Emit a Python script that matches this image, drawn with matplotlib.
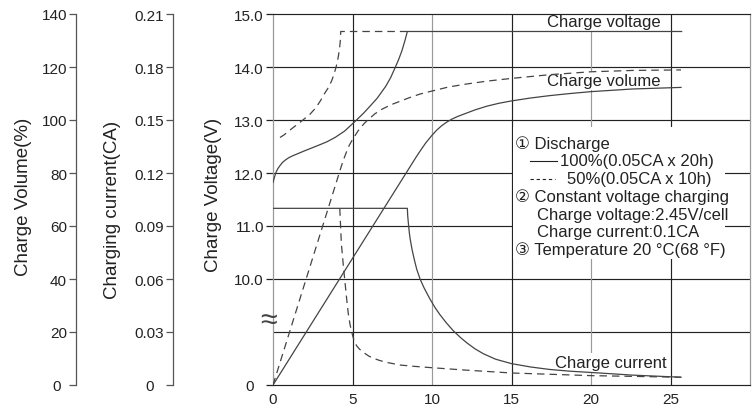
import matplotlib
matplotlib.use('Agg')
import matplotlib.pyplot as plt
from matplotlib.patches import Rectangle

plt.rcParams['font.family'] = ['Liberation Sans', 'DejaVu Sans']

# charge voltage (V) vs time (h)
hours_v100 = [0, 0.1, 0.2, 0.3, 0.44, 0.6, 0.8, 1.0, 1.28, 1.6, 2.0, 2.5, 3.0, 3.4, 3.9, 4.5, 5.15,
              5.7, 6.1, 6.55, 7.1, 7.4, 7.7, 7.9, 8.1, 8.3, 8.45, 25.7]
volt_100 = [11.82, 11.93, 12.02, 12.08, 12.14, 12.2, 12.25, 12.29, 12.33, 12.37, 12.42, 12.48, 12.54, 12.59, 12.67, 12.79, 12.97,
            13.13, 13.26, 13.41, 13.64, 13.8, 14.0, 14.14, 14.3, 14.5, 14.67, 14.67]
hours_v50 = [0.44, 0.7, 0.9, 1.28, 1.8, 2.33, 2.6, 2.8, 3.0, 3.16, 3.35, 3.5, 3.69, 3.82, 3.95, 4.05, 4.12,
             4.18, 4.22, 4.25, 4.26, 8.45]
volt_50 = [12.67, 12.72, 12.77, 12.86, 12.98, 13.11, 13.2, 13.28, 13.37, 13.46, 13.55, 13.62, 13.74, 13.85, 13.98, 14.1, 14.22,
           14.34, 14.45, 14.57, 14.67, 14.67]

# charge volume (%)
hours_c100 = [0, 9.0, 9.3, 9.6, 9.98, 10.3, 10.6, 10.9, 11.24, 11.6, 12.08, 12.7, 13.44, 14.2, 15.0, 16.2,
              17.4, 18.7, 20.0, 22.6, 25.66]
vol_100 = [0, 86, 88.7, 91.3, 94.1, 96.2, 97.8, 99.1, 100.3, 101.3, 102.4, 103.8, 105.2, 106.3, 107.2, 108.3,
           109.2, 110.0, 110.7, 111.7, 112.3]
hours_c50 = [0, 4.4, 4.53, 4.66, 4.8, 4.98, 5.16, 5.35, 5.55, 5.77, 6.0, 6.4, 6.83, 7.4, 8.09, 8.7, 9.25,
             9.98, 11.0, 12.08, 13.5, 15.0, 17.4, 20.0, 22.6, 25.66]
vol_50 = [0, 84.5, 86.5, 88.6, 90.5, 92.4, 94.1, 95.9, 97.4, 98.9, 100.2, 102.3, 104.0, 105.7, 107.3, 108.7, 109.8,
          110.9, 112.4, 113.5, 114.7, 115.7, 117.1, 118.2, 118.7, 118.9]

# charging current (CA)
hours_i100 = [0, 8.45, 8.47, 8.52, 8.57, 8.62, 8.75, 8.9, 9.04, 9.25, 9.5, 9.87, 10.2, 10.5, 10.9, 11.34, 11.8,
              12.2, 12.7, 13.23, 14.0, 15.0, 16.2, 17.4, 18.7, 20.0, 22.6, 25.66]
cur_100 = [0.1, 0.1, 0.096, 0.091, 0.0865, 0.083, 0.0765, 0.0705, 0.0655, 0.060, 0.055, 0.0487, 0.0437, 0.0398, 0.0352, 0.0307, 0.0268,
           0.0238, 0.0205, 0.0177, 0.0146, 0.0121, 0.0102, 0.0088, 0.0078, 0.0071, 0.0056, 0.0044]
hours_i50 = [4.2, 4.25, 4.3, 4.36, 4.42, 4.53, 4.63, 4.74, 4.85, 4.95, 5.1, 5.26, 5.45, 5.68, 6.0, 6.3, 6.7,
             7.15, 8.0, 8.82, 9.98, 12.0, 15.0, 20.0, 25.66]
cur_50 = [0.1, 0.09, 0.080, 0.074, 0.068, 0.058, 0.049, 0.040, 0.034, 0.030, 0.025, 0.0222, 0.0202, 0.0185, 0.0165, 0.0152, 0.0139,
          0.0128, 0.0113, 0.0106, 0.0098, 0.0085, 0.0068, 0.0053, 0.0044]

x_ticks = [0, 5, 10, 15, 20, 25]
volt_ticks = [8, 10, 11, 12, 13, 14, 15]
volt_labels = ['0', '10.0', '11.0', '12.0', '13.0', '14.0', '15.0']
vol_ticks = [0, 20, 40, 60, 80, 100, 120, 140]
cur_ticks = [0, 0.03, 0.06, 0.09, 0.12, 0.15, 0.18, 0.21]
cur_labels = ['0', '0.03', '0.06', '0.09', '0.12', '0.15', '0.18', '0.21']

dark = '#222222'
grey = '#9a9a9a'
curve = '#444444'
dash = (0, (6, 4))

fig = plt.figure(figsize=(7.56, 4.14), dpi=100)
ax = fig.add_axes([273/756, 28/414, 477/756, 371/414])
ax.set_xlim(0, 30)
ax.set_ylim(8, 15)

# grid
for v in [9, 10, 11, 12, 13, 14]:
    ax.axhline(v, color=dark, lw=0.85, zorder=1)
for xv, c in zip([5, 10, 15, 20, 25], [dark, grey, dark, grey, dark]):
    ax.axvline(xv, color=c, lw=0.85, zorder=1)

for s in ['top', 'bottom']:
    ax.spines[s].set_color(dark)
    ax.spines[s].set_linewidth(0.85)
for s in ['left', 'right']:
    ax.spines[s].set_color(grey)
    ax.spines[s].set_linewidth(0.9)

ax.set_xticks(x_ticks)
ax.set_yticks(volt_ticks)
ax.set_yticklabels(volt_labels)
ax.tick_params(axis='x', length=0, pad=5, labelsize=11, labelcolor=dark)
ax.tick_params(axis='y', length=5, width=0.9, pad=1.5, labelsize=11, labelcolor=dark, color=dark)
t0 = ax.yaxis.get_major_ticks()[0]
t0.tick1line.set_visible(False)
t0.set_pad(9)

# voltage curves
ax.plot(hours_v100, volt_100, color=curve, lw=0.9, zorder=3)
ax.plot(hours_v50, volt_50, color=curve, lw=0.9, ls=dash, zorder=3)

# labels on the curves
box = dict(facecolor='white', edgecolor='none', pad=1.5)
ax.text(20.8, 14.85, 'Charge voltage', ha='center', va='center', fontsize=12, color=dark, bbox=box, zorder=2)
ax.text(20.8, 13.74, 'Charge volume', ha='center', va='center', fontsize=12, color=dark, bbox=box, zorder=2)
ax.text(21.26, 8.43, 'Charge current', ha='center', va='center', fontsize=12, color=dark, bbox=box, zorder=2)

# notes box
ax.add_patch(Rectangle((15.1, 10.38), 13.3, 2.49, facecolor='white', edgecolor='none', zorder=2))
fs = 12
ax.text(15.22, 12.566, '\u2460 Discharge', va='center', fontsize=fs, color=dark, zorder=3)
ax.plot([16.16, 17.86], [12.232, 12.232], color=dark, lw=0.8, zorder=3)
ax.text(18.05, 12.232, '100%(0.05CA x 20h)', va='center', fontsize=fs, color=dark, zorder=3)
ax.plot([16.16, 17.74], [11.887, 11.887], color=dark, lw=0.8, ls=(0, (3, 2.5)), zorder=3)
ax.text(18.49, 11.887, '50%(0.05CA x 10h)', va='center', fontsize=fs, color=dark, zorder=3)
ax.text(15.22, 11.566, '\u2461 Constant voltage charging', va='center', fontsize=fs, color=dark, zorder=3)
ax.text(16.6, 11.226, 'Charge voltage:2.45V/cell', va='center', fontsize=fs, color=dark, zorder=3)
ax.text(16.6, 10.892, 'Charge current:0.1CA', va='center', fontsize=fs, color=dark, zorder=3)
ax.text(15.22, 10.566, '\u2462 Temperature 20 \u00b0C(68 \u00b0F)', va='center', fontsize=fs, color=dark, zorder=3)

# axis break mark
ax.text(-0.3, 9.23, '\u2248', ha='center', va='center', fontsize=22, color=curve, clip_on=False, zorder=4)

# extra y axes on the left
ax_vol = ax.twinx()
ax_cur = ax.twinx()
for a, pos in ((ax_vol, -0.413), (ax_cur, -0.2096)):
    for s in ['top', 'bottom', 'right']:
        a.spines[s].set_visible(False)
    a.spines['left'].set_visible(True)
    a.spines['left'].set_position(('axes', pos))
    a.spines['left'].set_color('#555555')
    a.spines['left'].set_linewidth(0.9)
    a.yaxis.tick_left()
    a.tick_params(axis='y', length=5, width=0.9, pad=1.5, labelsize=11, labelcolor=dark, color='#555555')

ax_vol.set_ylim(0, 140)
ax_vol.set_yticks(vol_ticks)
ax_vol.yaxis.get_major_ticks()[0].set_pad(6)
ax_vol.plot(hours_c100, vol_100, color=curve, lw=0.9, zorder=3)
ax_vol.plot(hours_c50, vol_50, color=curve, lw=0.9, ls=dash, zorder=3)

ax_cur.set_ylim(0, 0.21)
ax_cur.set_yticks(cur_ticks)
ax_cur.set_yticklabels(cur_labels)
ax_cur.yaxis.get_major_ticks()[0].set_pad(9)
ax_cur.plot(hours_i100, cur_100, color=curve, lw=0.9, zorder=3)
ax_cur.plot(hours_i50, cur_50, color=curve, lw=0.9, ls=dash, zorder=3)

# axis titles
fig.text(23.5/756, 1 - 197/414, 'Charge Volume(%)', rotation=90, ha='center', va='center', fontsize=13.5, color=dark)
fig.text(112.5/756, 1 - 210/414, 'Charging current(CA)', rotation=90, ha='center', va='center', fontsize=13.5, color=dark)
fig.text(214/756, 1 - 195/414, 'Charge Voltage(V)', rotation=90, ha='center', va='center', fontsize=13.5, color=dark)

fig.savefig('out.png', dpi=100)
